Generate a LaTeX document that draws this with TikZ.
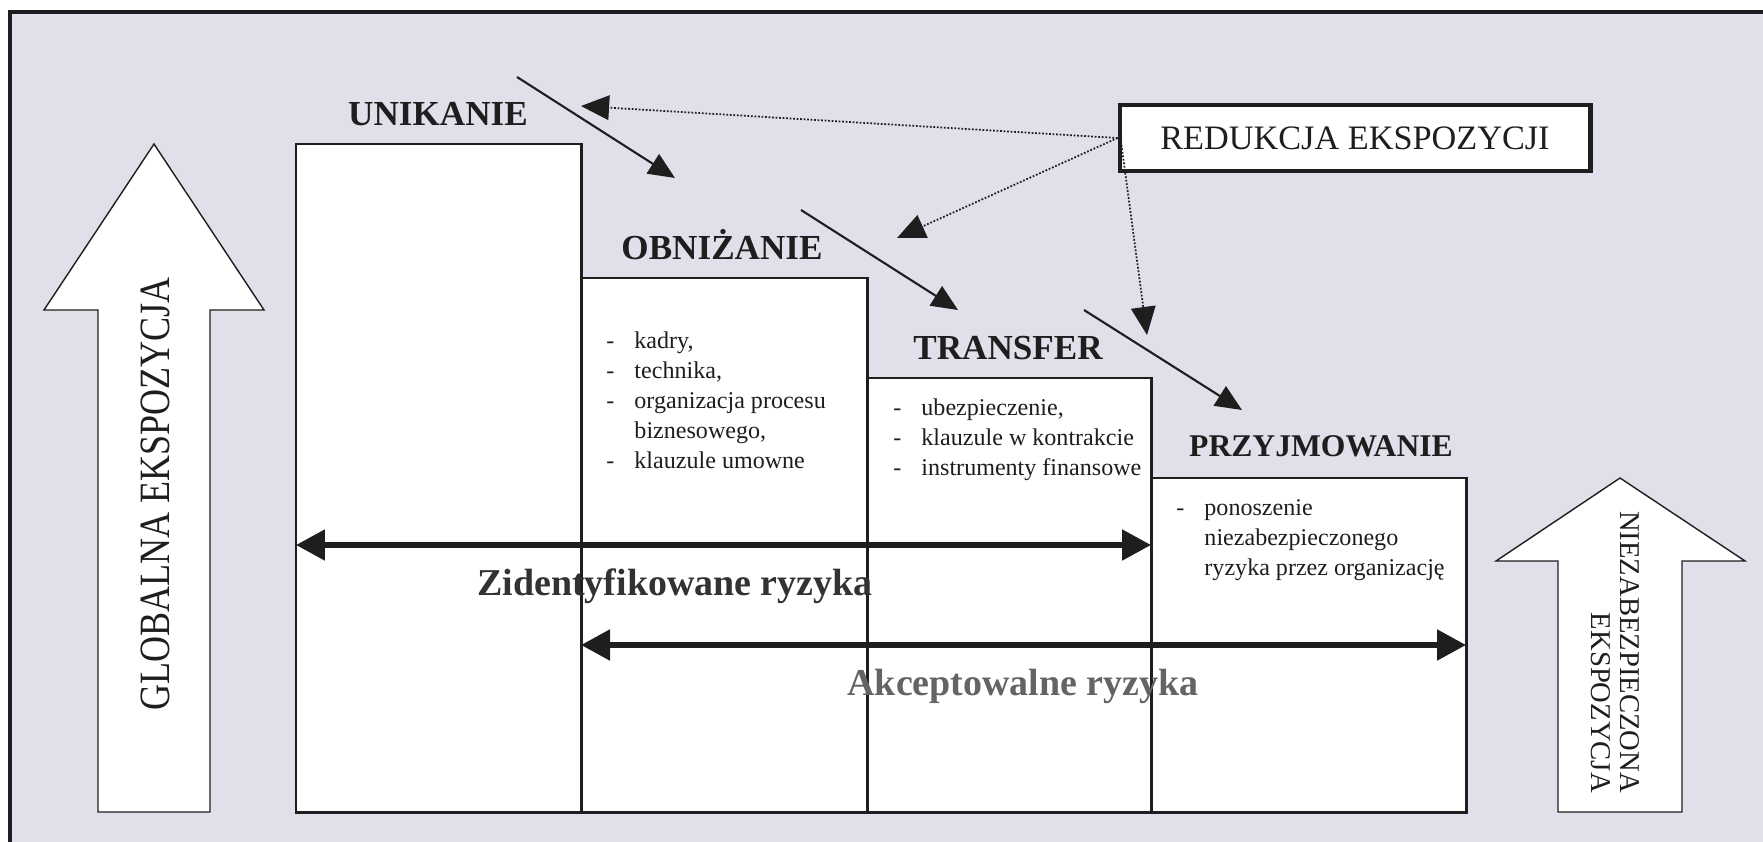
\documentclass[tikz,border=0pt]{standalone}
\usepackage{fontspec}
\setmainfont{Liberation Serif}
\usetikzlibrary{arrows.meta,calc,positioning}
\definecolor{panelgray}{RGB}{223,224,233}
\definecolor{inkdark}{RGB}{30,30,30}
\definecolor{zidgray}{RGB}{50,50,50}
\definecolor{akcgray}{RGB}{100,100,100}
\newcommand{\lidash}{\makebox[16pt][l]{-}}

\begin{document}
\begin{tikzpicture}[x=0.02cm,y=-0.02cm,line join=miter,
  col/.style={draw=inkdark,fill=white,line width=1.7pt},
  hollow/.style={draw=inkdark,fill=white,line width=0.8pt},
  stage/.style={font=\fontsize{20}{24}\selectfont\bfseries,text=inkdark,inner sep=0pt,anchor=base},
  items/.style={font=\fontsize{13.7}{17}\selectfont,text=inkdark,align=left,anchor=base west,inner sep=0pt},
  span/.style={{Triangle[length=16.5pt,width=17pt]}-{Triangle[length=16.5pt,width=17pt]},line width=3.2pt,draw=inkdark},
  flow/.style={-{Triangle[length=15pt,width=13pt]},line width=1.2pt,draw=inkdark},
  hint/.style={-{Triangle[length=16pt,width=14pt]},line width=1pt,densely dotted,draw=inkdark}]
 \useasboundingbox (0,0) rectangle (1763,841);
 \clip (0,0) rectangle (1763,841);
 \fill[white] (0,0) rectangle (1763,841);
 \draw[fill=panelgray,draw=inkdark,line width=2pt] (10,12) rectangle (1790,870);
 % exposure arrows
 \draw[hollow] (154,144) -- (264,310) -- (210,310) -- (210,812)
  -- (98,812) -- (98,310) -- (44,310) -- cycle;
 \node[rotate=90,inner sep=0pt,text=inkdark,font=\fontsize{20.5}{24}\selectfont]
  (global) at (155,494) {\scalebox{1}[1.2]{GLOBALNA EKSPOZYCJA}};
 \draw[hollow] (1620,478) -- (1745,561) -- (1682,561) -- (1682,812)
  -- (1558,812) -- (1558,561) -- (1496,561) -- cycle;
 \node[rotate=-90,align=right,inner sep=0pt,text=inkdark,font=\fontsize{16.3}{16.5}\selectfont]
  (niezab) at (1615,652) {NIEZABEZPIECZONA\\EKSPOZYCJA};
 % columns
 \draw[col] (296,144) rectangle (581,812);
 \draw[col] (581,278) rectangle (867,812);
 \draw[col] (867,378) rectangle (1151,812);
 \draw[col] (1151,478) rectangle (1466,812);
 \node[stage] (unik) at (438,126) {UNIKANIE};
 \node[stage] (obniz) at (722,259) {OBNIŻANIE};
 \node[stage] (trans) at (1008,359) {TRANSFER};
 \node[stage,font=\fontsize{18}{22}\selectfont\bfseries] (przyj) at (1321,456) {PRZYJMOWANIE};
 \node[items] (obnizlist) at (606,468)
  {\lidash kadry,\\\lidash technika,\\\lidash organizacja procesu\\\hspace*{16pt}biznesowego,\\\lidash klauzule umowne};
 \node[items] (translist) at (893,475)
  {\lidash ubezpieczenie,\\\lidash klauzule w kontrakcie\\\lidash instrumenty finansowe};
 \node[items] (przyjlist) at (1176,575)
  {\lidash ponoszenie\\\hspace*{16pt}niezabezpieczonego\\\hspace*{16pt}ryzyka przez organizację};
 % risk spans
 \coordinate (zidL) at (296,545); \coordinate (zidR) at (1151,545);
 \coordinate (akcL) at (581,645); \coordinate (akcR) at (1466,645);
 \draw[span] (zidL) -- (zidR);
 \draw[span] (akcL) -- (akcR);
 \node[stage,font=\fontsize{21.6}{26}\selectfont\bfseries,text=zidgray] (zid) at (675,595) {Zidentyfikowane ryzyka};
 \node[stage,font=\fontsize{21.6}{26}\selectfont\bfseries,text=akcgray] (akc) at (1023,695) {Akceptowalne ryzyka};
 % steps down
 \coordinate (f1s) at (517,77);  \coordinate (f1e) at (675,178);
 \coordinate (f2s) at (801,210); \coordinate (f2e) at (958,310);
 \coordinate (f3s) at (1084,310); \coordinate (f3e) at (1242,410);
 \draw[flow] (f1s) -- (f1e);
 \draw[flow] (f2s) -- (f2e);
 \draw[flow] (f3s) -- (f3e);
 % reduction hints
 \node[draw=inkdark,fill=white,line width=2.3pt,minimum width=9.42cm,minimum height=1.32cm,
  inner sep=0pt,font=\fontsize{19.5}{23}\selectfont,text=inkdark] (redukcja) at (1355,138) {REDUKCJA EKSPOZYCJI};
 \coordinate (h1) at (581,106);
 \coordinate (h2) at (897,238);
 \coordinate (h3) at (1147,335);
 \draw[hint] (redukcja.west) -- (h1);
 \draw[hint] (redukcja.west) -- (h2);
 \draw[hint] ($(redukcja.west)+(3,0)$) -- (h3);
 \node[draw=inkdark,line width=2.3pt,minimum width=9.42cm,minimum height=1.32cm,inner sep=0pt] at (redukcja) {};
\end{tikzpicture}
\end{document}
